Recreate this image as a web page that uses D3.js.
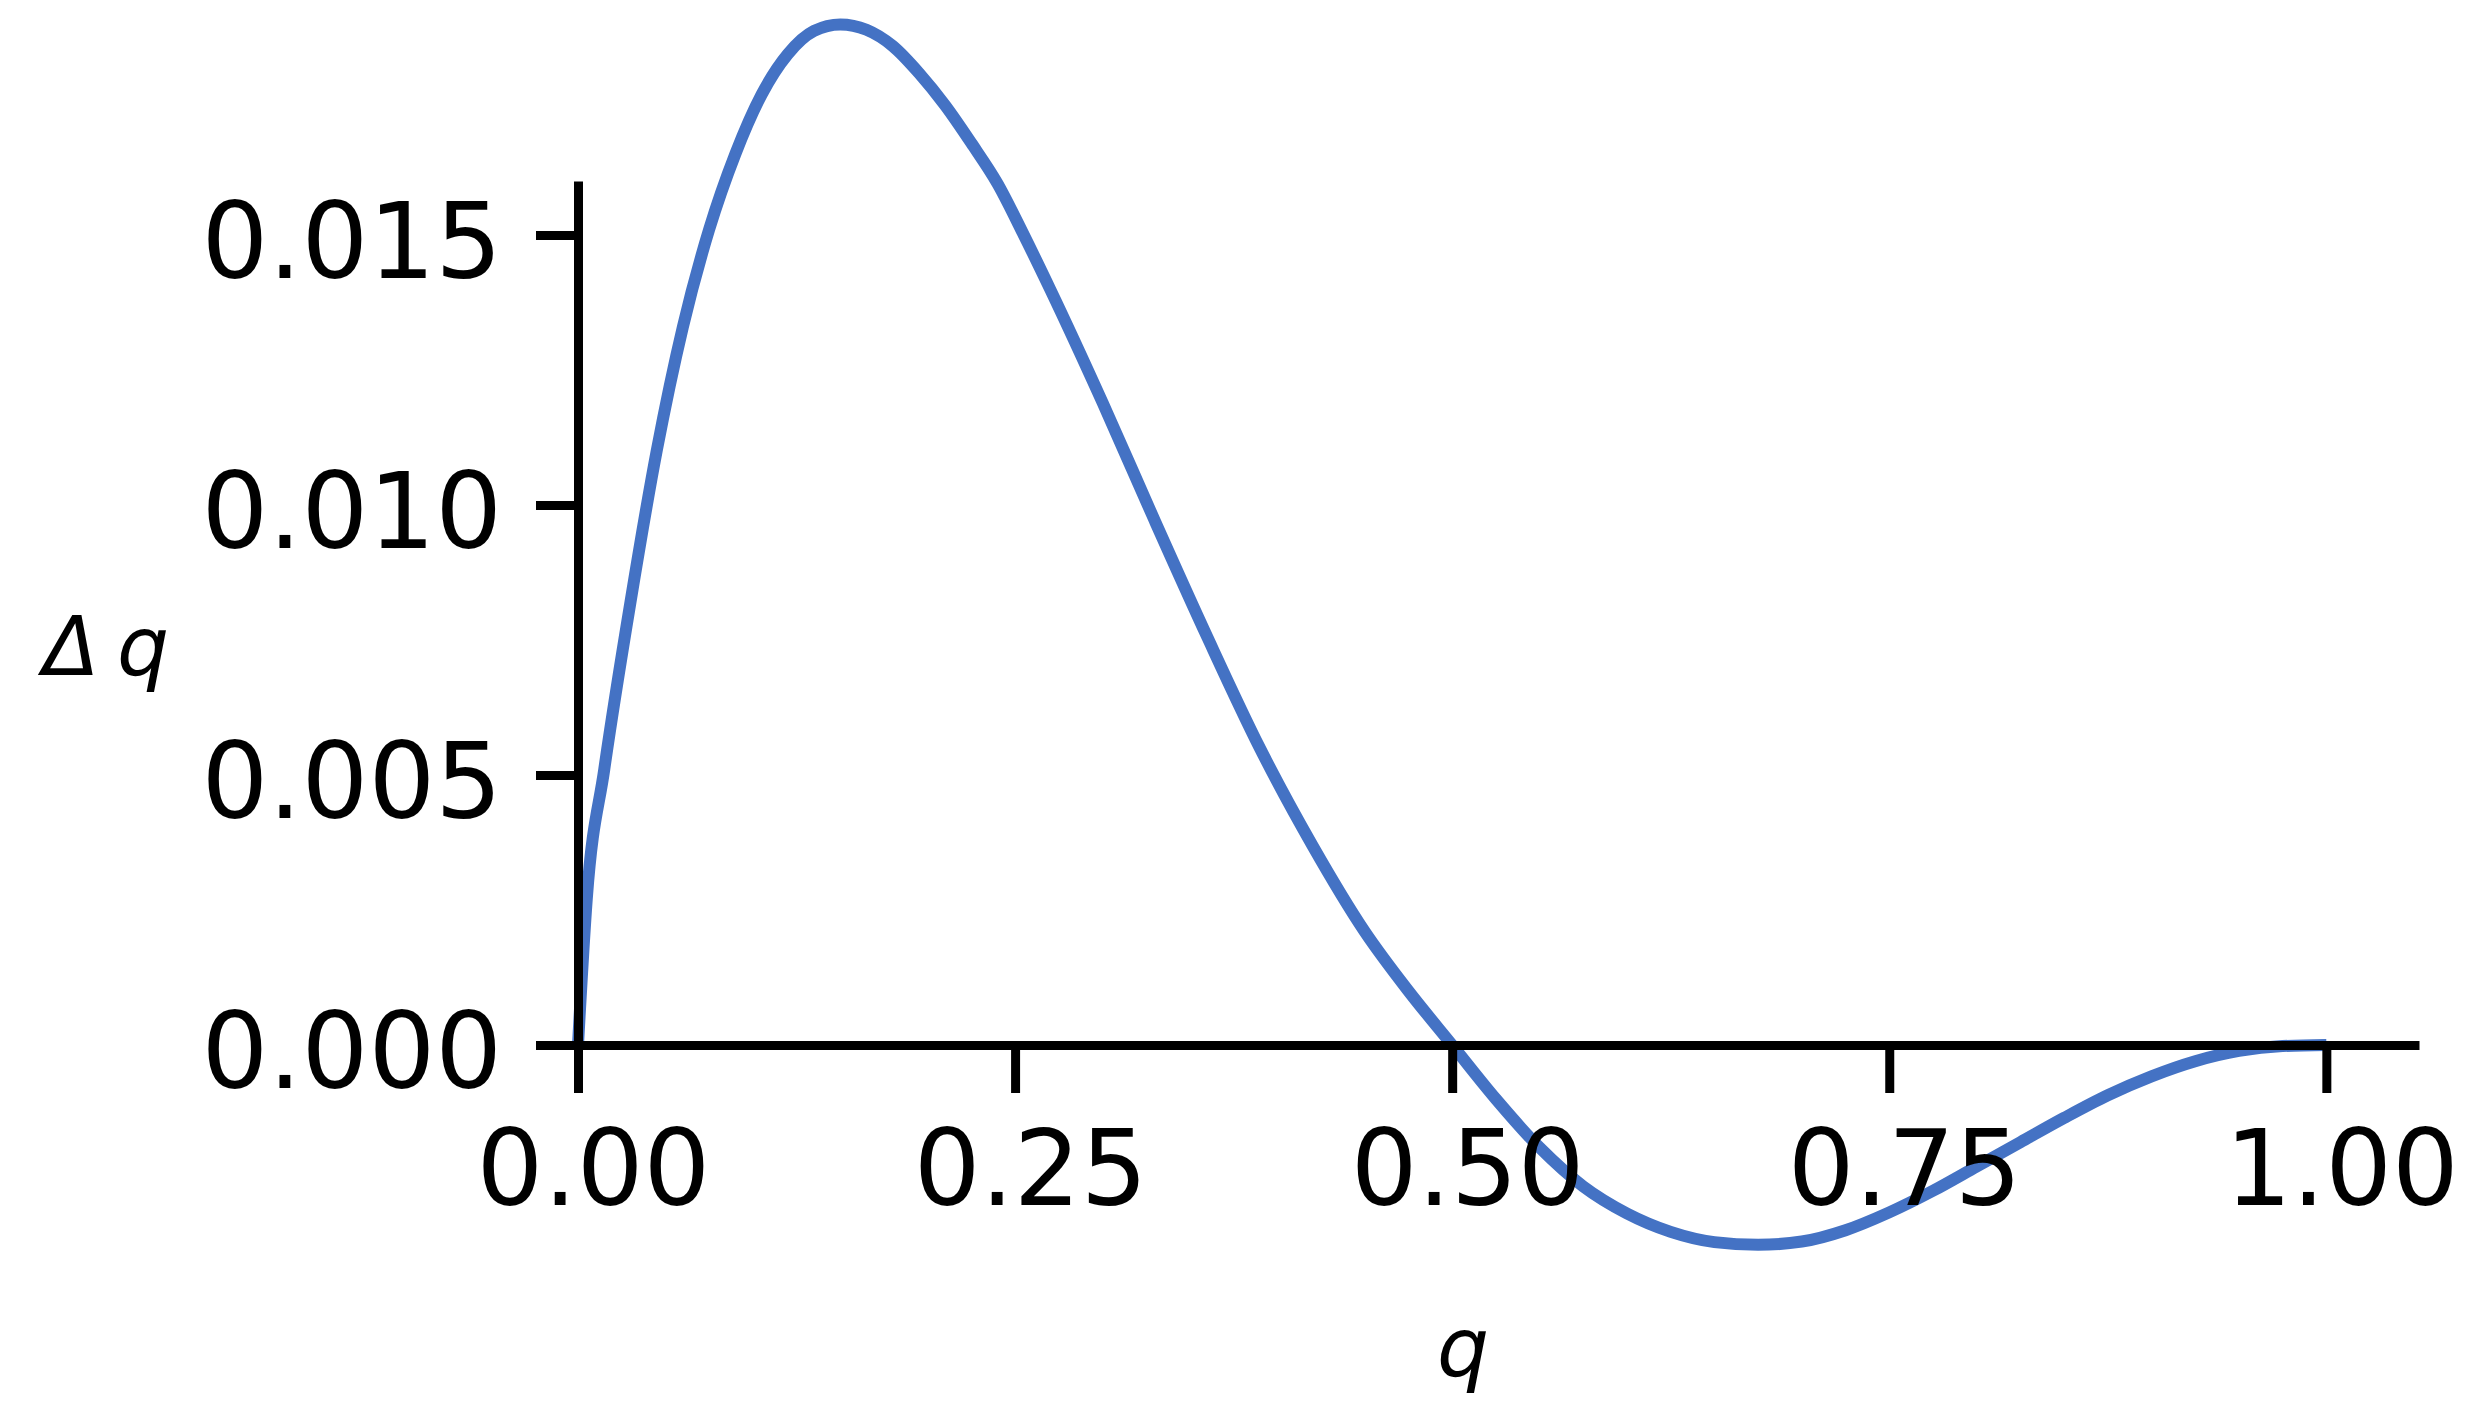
<!DOCTYPE html>
<html>
<head>
<meta charset="utf-8">
<script src="https://cdn.jsdelivr.net/npm/d3@7"></script>
<style>
  html, body { margin: 0; padding: 0; background: #fff; }
  svg { display: block; }
</style>
</head>
<body>
<svg id="chart" width="2469" height="1424"></svg>
<script>
var qValues = [0, 0.005, 0.015, 0.030, 0.045, 0.060, 0.075, 0.090, 0.105, 0.120, 0.135, 0.150, 0.165, 0.180, 0.195, 0.210, 0.225, 0.240, 0.255, 0.270, 0.300, 0.330, 0.360, 0.390, 0.420, 0.450, 0.475, 0.500, 0.525, 0.550, 0.575, 0.600, 0.625, 0.650, 0.675, 0.700, 0.725, 0.750, 0.775, 0.800, 0.825, 0.850, 0.875, 0.900, 0.925, 0.950, 0.975, 1.000];
var dqValues = [0, 0.0027, 0.0051, 0.0082, 0.0110, 0.0133, 0.0151, 0.0165, 0.0176, 0.01835, 0.01878, 0.0189, 0.0188, 0.0185, 0.0180, 0.0174, 0.0167, 0.01595, 0.0150, 0.0140, 0.0119, 0.0097, 0.00755, 0.0055, 0.0037, 0.0021, 0.0010, 0, -0.0010, -0.0019, -0.00262, -0.00312, -0.00346, -0.00365, -0.0037, -0.00364, -0.00343, -0.0031, -0.0027, -0.00225, -0.0018, -0.00135, -0.00093, -0.00058, -0.0003, -0.00011, -0.00002, 0];
var xTicks = [0, 0.25, 0.5, 0.75, 1.0];
var yTicks = [0, 0.005, 0.010, 0.015];
var xLabel = "q";
var yLabel = ["Δ", "q"];

var data = qValues.map(function (q, i) { return { q: q, dq: dqValues[i] }; });

var svg = d3.select("#chart");
var x = d3.scaleLinear().domain([0, 1.053]).range([578, 2419]);
var y = d3.scaleLinear().domain([0, 0.016]).range([1045, 181]);

var line = d3.line()
    .x(function (d) { return x(d.q); })
    .y(function (d) { return y(d.dq); })
    .curve(d3.curveMonotoneX);

svg.append("path")
    .datum(data)
    .attr("d", line)
    .attr("fill", "none")
    .attr("stroke", "#4472c4")
    .attr("stroke-width", 12)
    .attr("stroke-linejoin", "round");

function styleAxis(g) {
    g.attr("font-family", "'DejaVu Sans', sans-serif")
        .attr("font-size", 105);
    g.select(".domain").attr("stroke", "#000").attr("stroke-width", 9);
    g.selectAll(".tick line").attr("stroke", "#000").attr("stroke-width", 9);
    g.selectAll(".tick text").attr("fill", "#000");
}

var yAxis = svg.append("g")
    .attr("transform", "translate(" + x(0) + ",0)")
    .call(d3.axisLeft(y)
        .tickValues(yTicks)
        .tickFormat(d3.format(".3f"))
        .tickSize(42)
        .tickSizeOuter(0)
        .tickPadding(34));
styleAxis(yAxis);
yAxis.selectAll(".tick text").attr("dy", "0.4em");

var xAxis = svg.append("g")
    .attr("transform", "translate(0," + y(0) + ")")
    .call(d3.axisBottom(x)
        .tickValues(xTicks)
        .tickFormat(d3.format(".2f"))
        .tickSize(48)
        .tickSizeOuter(0)
        .tickPadding(37));
styleAxis(xAxis);
xAxis.selectAll(".tick text").attr("dx", 15);

var yTitle = svg.append("text")
    .attr("x", 43)
    .attr("y", 675)
    .attr("font-family", "'DejaVu Sans', sans-serif")
    .attr("font-style", "italic")
    .attr("font-size", 82)
    .attr("fill", "#000");
yTitle.append("tspan").text(yLabel[0]);
yTitle.append("tspan").attr("dx", 18).text(yLabel[1]);

svg.append("text")
    .attr("x", 1463)
    .attr("y", 1376)
    .attr("text-anchor", "middle")
    .attr("font-family", "'DejaVu Sans', sans-serif")
    .attr("font-style", "italic")
    .attr("font-size", 82)
    .attr("fill", "#000")
    .text(xLabel);
</script>
</body>
</html>
